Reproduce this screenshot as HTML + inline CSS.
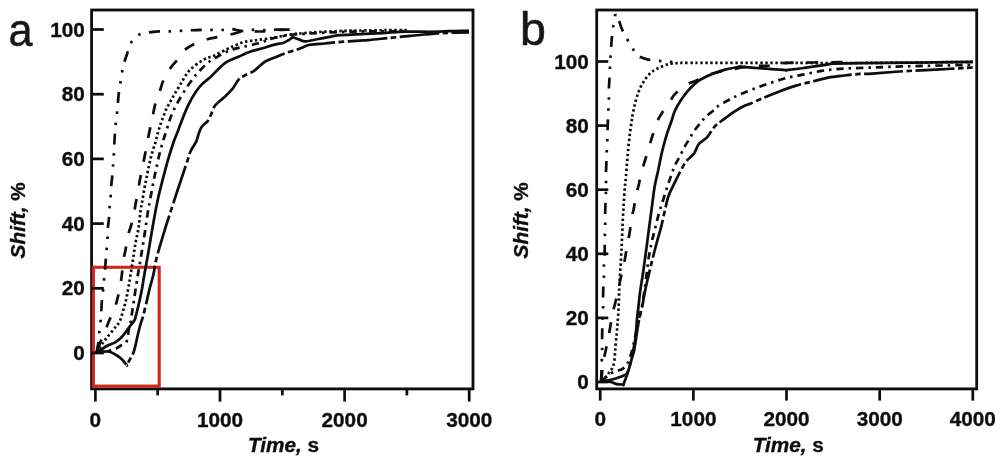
<!DOCTYPE html>
<html lang="en">
<head>
<meta charset="utf-8">
<title>Shift vs Time</title>
<style>
html,body{margin:0;padding:0;background:#fff;}
body{width:1000px;height:463px;overflow:hidden;font-family:"Liberation Sans",Arial,sans-serif;}
svg{display:block;}
</style>
</head>
<body>
<svg width="1000" height="463" viewBox="0 0 1000 463">
<defs><filter id="soft" x="0" y="0" width="1000" height="463" filterUnits="userSpaceOnUse"><feGaussianBlur stdDeviation="0.4"/></filter></defs>
<rect x="0" y="0" width="1000" height="463" fill="#fff"/>
<g filter="url(#soft)">
<g fill="none" stroke="#0a0a0a" stroke-width="2.8">
<rect x="91.6" y="10" width="381.4" height="378.9"/>
<rect x="596.7" y="10" width="380" height="378.9"/>
</g>
<rect x="93.4" y="267.3" width="65.8" height="118.8" fill="none" stroke="#d0281e" stroke-width="3.1"/>
<g fill="none" stroke="#0a0a0a" stroke-width="2.7" stroke-linejoin="round">
<path d="M96.5,352.7 C96.8,351.1 97.8,346.4 98.3,343.0 C98.8,339.6 98.9,335.7 99.3,332.1 C99.7,328.6 100.2,325.1 100.5,321.7 C100.8,318.3 101.1,315.3 101.3,311.9 C101.5,308.4 101.6,304.6 101.9,301.0 C102.2,297.4 102.8,293.6 103.1,290.1 C103.4,286.6 103.7,283.4 104.0,280.0 C104.3,276.6 104.7,273.4 105.0,270.0 C105.3,266.6 105.5,263.1 105.8,259.6 C106.1,256.1 106.3,252.7 106.6,249.2 C106.9,245.7 107.2,242.4 107.4,238.8 C107.6,235.2 107.6,231.1 107.9,227.6 C108.2,224.1 108.7,221.3 109.0,218.0 C109.3,214.7 109.2,211.5 109.5,208.0 C109.8,204.5 110.3,200.4 110.6,196.8 C110.9,193.2 110.8,189.7 111.1,186.4 C111.4,183.1 111.9,180.1 112.2,176.8 C112.5,173.5 112.7,170.0 113.0,166.4 C113.3,162.8 113.6,158.9 113.8,155.2 C114.0,151.5 114.1,147.5 114.3,144.0 C114.5,140.5 114.7,137.3 114.9,134.0 C115.1,130.7 115.4,127.6 115.7,124.1 C116.0,120.6 116.7,116.6 117.0,113.2 C117.3,109.8 117.5,107.1 117.8,103.6 C118.1,100.1 118.5,96.0 118.9,92.4 C119.4,88.8 120.0,85.4 120.5,82.0 C121.0,78.6 121.5,75.1 122.1,71.9 C122.7,68.7 123.2,66.0 124.2,62.6 C125.2,59.2 126.8,54.7 127.9,51.4 C129.1,48.1 129.4,45.3 131.1,42.6 C132.8,39.9 135.5,36.8 138.3,35.1 C141.2,33.4 144.8,33.1 148.2,32.5 C151.6,31.9 155.1,31.6 158.6,31.4 C162.1,31.2 165.4,31.5 169.0,31.4 C172.6,31.3 176.7,31.1 180.2,30.9 C183.7,30.7 186.3,30.5 189.8,30.3 C193.3,30.1 197.4,29.9 201.0,29.8 C204.6,29.7 207.9,29.8 211.4,29.8 C214.9,29.8 218.5,30.1 221.8,30.0 C225.1,29.9 227.5,28.7 231.0,28.9 C234.5,29.1 239.3,31.0 243.0,31.1 C246.7,31.2 249.5,30.0 253.0,29.8 C256.5,29.6 260.6,30.2 264.0,30.2 C267.4,30.2 268.9,29.8 273.6,29.7 C278.3,29.6 288.9,29.7 292.0,29.7" stroke-dasharray="11 8.6 2.5 8.6 2.5 8.6"/>
<path d="M96.5,352.7 C97.4,350.3 100.4,341.9 101.9,338.1 C103.4,334.3 104.4,332.6 105.6,329.7 C106.8,326.8 107.6,324.4 109.2,320.6 C110.8,316.8 113.5,311.0 115.0,307.0 C116.5,303.0 117.0,300.8 117.9,296.8 C118.9,292.8 120.0,287.0 120.7,282.9 C121.4,278.8 121.6,276.5 122.1,272.4 C122.6,268.2 123.3,262.0 123.9,258.0 C124.5,254.0 125.1,252.3 125.8,248.4 C126.5,244.5 127.3,238.8 128.2,234.8 C129.1,230.8 130.4,228.3 131.4,224.4 C132.4,220.5 133.5,215.1 134.3,211.2 C135.1,207.3 135.5,204.8 136.2,200.8 C136.9,196.8 137.9,191.2 138.6,187.2 C139.3,183.2 139.7,180.9 140.5,176.8 C141.3,172.7 142.6,166.5 143.4,162.4 C144.2,158.3 144.8,155.9 145.5,152.0 C146.2,148.1 147.1,142.9 147.9,138.8 C148.7,134.7 149.5,131.6 150.3,127.6 C151.2,123.6 152.2,118.8 153.0,114.8 C153.8,110.8 154.2,107.6 155.4,103.6 C156.6,99.6 158.6,94.7 159.9,90.8 C161.2,86.9 161.8,84.0 163.4,80.4 C165.1,76.8 167.5,72.4 169.8,69.0 C172.1,65.6 174.5,63.4 177.0,60.2 C179.5,57.0 181.9,52.6 185.0,49.8 C188.1,47.0 191.7,45.2 195.4,43.4 C199.1,41.6 203.6,40.3 207.4,39.2 C211.2,38.1 214.5,37.7 218.4,36.9 C222.3,36.1 226.9,35.2 231.0,34.3 C235.1,33.4 238.6,32.0 243.0,31.5 C247.4,31.0 253.6,31.5 257.7,31.5 C261.8,31.5 263.6,31.6 267.4,31.3 C271.2,31.0 276.6,30.1 280.7,29.8 C284.8,29.5 290.1,29.7 292.0,29.7" stroke-dasharray="11 13.3" stroke-dashoffset="-3"/>
<path d="M96.5,352.7 C97.2,351.6 99.5,347.8 100.7,346.0 C101.9,344.2 102.6,343.3 103.7,341.8 C104.8,340.3 106.2,338.4 107.4,336.9 C108.6,335.4 109.7,334.3 111.0,332.7 C112.3,331.1 114.1,328.6 115.2,327.3 C116.3,326.0 116.8,326.0 117.7,324.6 C118.6,323.2 119.9,321.1 120.7,319.0 C121.5,316.9 122.0,314.3 122.7,311.9 C123.4,309.5 124.2,307.1 124.9,304.6 C125.6,302.1 126.1,299.7 126.7,296.8 C127.3,293.9 127.9,290.6 128.5,287.1 C129.1,283.6 129.6,280.6 130.3,276.0 C131.1,271.4 132.2,265.0 133.0,259.6 C133.8,254.2 134.5,248.9 135.4,243.6 C136.3,238.3 137.8,233.0 138.6,227.6 C139.4,222.2 139.9,215.3 140.5,211.0 C141.1,206.7 141.6,205.2 142.2,201.6 C142.8,198.0 143.5,193.6 144.2,189.6 C144.9,185.6 145.8,181.6 146.6,177.6 C147.4,173.6 148.1,169.6 149.0,165.6 C149.9,161.6 150.8,157.5 151.9,153.6 C153.0,149.7 154.4,145.8 155.4,142.4 C156.4,139.0 157.0,136.1 157.8,133.2 C158.6,130.3 159.3,128.0 160.2,125.2 C161.1,122.4 162.3,119.2 163.4,116.4 C164.5,113.6 165.4,110.9 166.6,108.4 C167.8,105.9 169.3,103.6 170.6,101.2 C171.9,98.8 173.1,96.5 174.6,94.0 C176.1,91.5 177.8,88.7 179.4,86.0 C181.0,83.3 182.4,80.8 184.2,78.0 C186.0,75.2 187.2,72.5 190.3,69.5 C193.4,66.5 198.9,62.4 203.0,60.0 C207.1,57.6 211.0,57.0 215.0,55.2 C219.0,53.4 223.7,50.8 227.0,49.2 C230.3,47.6 232.3,46.5 235.0,45.4 C237.7,44.3 240.3,43.2 243.0,42.4 C245.7,41.6 248.3,41.2 251.0,40.8 C253.7,40.4 255.7,40.2 259.0,39.8 C262.3,39.4 267.5,38.8 271.0,38.2 C274.5,37.6 276.4,37.1 280.0,36.4 C283.6,35.7 288.7,34.8 292.8,34.2 C296.9,33.6 300.4,33.4 304.9,33.0 C309.4,32.6 313.5,32.4 320.0,32.0 C326.5,31.6 337.3,31.1 344.0,30.9 C350.7,30.6 353.2,30.6 360.0,30.5 C366.8,30.4 377.2,30.3 385.0,30.2 C392.8,30.1 403.3,30.1 407.0,30.1" stroke-dasharray="2.4 2.6"/>
<path d="M96.5,352.7 C98.4,352.4 104.9,351.6 108.0,351.0 C111.1,350.4 113.2,349.8 115.2,349.0 C117.2,348.2 118.3,347.1 120.1,346.0 C121.9,344.9 124.8,344.1 126.1,342.4 C127.4,340.7 127.5,337.6 127.9,335.7 C128.3,333.8 128.1,332.9 128.5,330.9 C128.9,328.8 129.8,326.3 130.4,323.4 C131.0,320.5 131.4,316.9 131.9,313.7 C132.4,310.5 132.9,307.2 133.4,304.0 C133.9,300.8 134.3,297.7 134.8,294.4 C135.3,291.1 135.9,287.1 136.4,284.1 C136.9,281.1 137.2,278.4 137.6,276.2 C138.0,274.0 138.0,274.1 138.6,270.8 C139.2,267.5 140.2,261.2 141.0,256.4 C141.8,251.6 142.6,247.1 143.4,242.0 C144.2,236.9 145.1,230.8 145.8,226.0 C146.5,221.2 147.2,216.6 147.7,213.2 C148.2,209.8 148.4,209.0 149.0,205.6 C149.6,202.2 150.6,197.1 151.4,192.8 C152.2,188.5 153.0,184.0 153.8,180.0 C154.6,176.0 155.3,173.1 156.2,168.8 C157.1,164.5 158.3,158.9 159.4,154.4 C160.5,149.9 161.7,145.7 162.9,141.6 C164.1,137.5 165.4,133.7 166.6,130.0 C167.8,126.3 168.7,122.7 169.8,119.6 C170.9,116.5 171.8,114.3 173.0,111.6 C174.2,108.9 175.4,106.5 177.0,103.6 C178.6,100.7 180.7,97.1 182.6,94.0 C184.5,90.9 186.3,88.0 188.2,85.2 C190.1,82.5 192.1,79.7 193.8,77.5 C195.5,75.3 196.3,74.3 198.5,72.0 C200.7,69.7 204.4,65.6 207.0,63.4 C209.6,61.2 211.5,60.4 214.2,58.8 C216.9,57.2 219.9,55.2 223.0,53.6 C226.1,52.0 229.4,50.5 232.6,49.4 C235.8,48.3 239.0,47.7 242.2,47.0 C245.4,46.3 248.6,45.8 251.8,45.0 C255.0,44.2 258.3,43.2 261.4,42.2 C264.5,41.2 267.1,40.1 270.2,39.2 C273.3,38.3 276.2,37.6 280.0,36.8 C283.8,36.0 288.7,35.0 292.8,34.5 C296.9,34.0 300.4,34.1 304.9,33.8 C309.4,33.5 313.5,33.2 320.0,32.9 C326.5,32.6 337.3,32.1 344.0,31.9 C350.7,31.7 353.2,31.6 360.0,31.5 C366.8,31.4 377.2,31.4 385.0,31.3 C392.8,31.2 403.3,31.2 407.0,31.2" stroke-dasharray="7.3 5 2.5 5"/>
<path d="M96.5,352.7 C98.2,351.6 103.7,347.7 106.8,346.0 C109.9,344.3 112.8,343.8 115.2,342.4 C117.6,341.0 119.5,339.3 121.3,337.5 C123.1,335.7 124.5,333.6 126.1,331.5 C127.7,329.4 129.6,326.7 131.0,324.8 C132.4,322.9 133.8,321.4 134.6,320.0 C135.4,318.6 135.1,318.8 135.8,316.1 C136.5,313.4 137.8,308.4 138.8,304.0 C139.8,299.6 141.0,294.3 141.9,289.5 C142.8,284.7 143.2,281.1 144.3,275.0 C145.4,268.9 147.0,260.0 148.2,253.2 C149.4,246.4 150.2,240.9 151.4,234.0 C152.6,227.1 154.2,218.1 155.4,211.8 C156.6,205.5 157.3,201.8 158.6,196.0 C159.9,190.2 161.8,182.9 163.4,176.8 C165.0,170.7 166.5,165.1 168.2,159.2 C169.9,153.3 172.1,146.5 173.8,141.5 C175.5,136.5 177.0,133.4 178.6,129.2 C180.2,125.0 181.7,120.7 183.4,116.4 C185.1,112.1 187.0,107.6 189.0,103.6 C191.0,99.6 193.3,95.6 195.4,92.4 C197.5,89.2 199.3,87.0 201.8,84.4 C204.3,81.8 207.9,79.4 210.5,77.0 C213.1,74.6 214.9,72.5 217.5,70.0 C220.1,67.5 222.8,64.4 226.3,62.2 C229.8,60.0 234.4,58.6 238.4,56.8 C242.4,55.0 246.5,53.0 250.5,51.6 C254.5,50.2 258.6,49.5 262.6,48.3 C266.6,47.1 271.3,45.5 274.7,44.6 C278.1,43.7 280.8,43.7 283.1,43.0 C285.4,42.3 286.9,41.2 288.5,40.3 C290.1,39.3 292.1,37.8 292.8,37.3 C293.5,36.8 291.8,36.9 292.8,37.3 C293.8,37.6 296.8,38.7 298.9,39.4 C301.0,40.1 302.4,41.5 305.6,41.4 C308.9,41.3 314.1,39.8 318.4,39.0 C322.7,38.2 327.6,37.2 331.2,36.6 C334.8,36.0 335.2,35.6 340.0,35.2 C344.8,34.8 353.0,34.6 360.0,34.2 C367.0,33.9 374.3,33.5 382.0,33.1 C389.7,32.7 398.0,31.8 406.0,31.6 C414.0,31.4 422.7,31.9 430.0,31.8 C437.3,31.7 443.5,31.4 450.0,31.2 C456.5,31.0 465.8,30.9 469.0,30.8"/>
<path d="M96.5,352.7 C98.4,352.5 104.9,351.1 108.0,351.4 C111.1,351.7 113.0,353.3 115.2,354.5 C117.4,355.7 119.4,356.9 121.3,358.7 C123.2,360.4 125.8,363.9 126.7,365.0 C127.6,366.1 126.0,366.2 126.7,365.0 C127.4,363.8 129.9,359.6 131.0,357.5 C132.1,355.4 132.7,354.5 133.4,352.7 C134.1,350.9 134.5,349.4 135.2,346.6 C135.9,343.8 136.8,339.1 137.6,335.7 C138.4,332.3 139.3,328.6 140.0,326.0 C140.7,323.4 141.4,321.6 141.9,320.0 C142.4,318.4 142.4,318.8 143.1,316.1 C143.8,313.4 145.0,308.6 146.1,304.0 C147.2,299.4 148.5,293.1 149.7,288.3 C150.9,283.5 152.2,279.8 153.3,275.0 C154.4,270.2 155.0,264.6 156.2,259.6 C157.3,254.6 158.7,250.3 160.2,245.2 C161.7,240.1 163.3,234.8 165.0,229.2 C166.7,223.6 168.7,217.4 170.6,211.6 C172.5,205.8 174.5,199.7 176.2,194.4 C177.9,189.1 179.1,185.6 181.0,180.0 C182.9,174.4 185.8,165.6 187.4,160.8 C189.0,156.0 189.1,154.4 190.6,151.2 C192.1,148.0 194.9,144.5 196.2,141.6 C197.5,138.7 197.7,136.5 198.6,134.0 C199.5,131.5 200.2,129.1 201.8,126.8 C203.4,124.5 206.5,122.9 208.2,120.4 C209.9,117.9 211.0,114.1 212.2,111.6 C213.4,109.1 213.4,107.6 215.4,105.2 C217.4,102.8 221.4,99.9 224.2,97.2 C227.0,94.5 229.8,92.1 232.2,89.2 C234.6,86.3 236.6,81.9 238.6,79.6 C240.6,77.3 241.8,77.1 244.4,75.6 C247.0,74.1 250.7,73.1 254.1,70.8 C257.5,68.5 261.6,63.9 265.0,61.7 C268.4,59.5 271.1,59.0 274.7,57.5 C278.3,56.0 282.8,54.1 286.8,52.7 C290.8,51.3 295.1,50.3 298.9,49.0 C302.7,47.7 305.5,45.7 309.8,44.8 C314.1,43.9 320.2,43.9 324.8,43.5 C329.4,43.1 331.7,42.7 337.6,42.2 C343.5,41.7 354.9,41.0 360.0,40.6 C365.1,40.2 363.2,40.5 368.0,40.1 C372.8,39.7 382.0,38.7 389.0,38.0 C396.0,37.3 404.2,36.5 410.0,35.9 C415.8,35.3 419.3,34.9 424.0,34.5 C428.7,34.1 433.7,33.6 438.0,33.3 C442.3,33.0 444.8,33.0 450.0,32.8 C455.2,32.6 465.8,32.4 469.0,32.3" stroke-dasharray="39.6 3.5 5.6 3.5" stroke-dashoffset="3.4"/>
<path d="M601.1,381.0 C601.2,379.2 601.3,375.4 601.5,370.0 C601.7,364.6 602.0,354.1 602.1,348.8 C602.2,343.6 602.1,342.0 602.1,338.5 C602.1,335.0 602.2,331.0 602.3,327.7 C602.4,324.4 602.6,321.9 602.7,318.6 C602.8,315.3 603.0,311.2 603.1,307.7 C603.2,304.2 603.1,301.0 603.1,297.4 C603.1,293.8 603.2,289.8 603.3,286.3 C603.4,282.8 603.8,280.0 603.9,276.6 C604.0,273.2 603.8,269.5 603.9,265.7 C604.0,261.9 604.6,257.2 604.7,253.8 C604.8,250.4 604.7,248.2 604.7,245.0 C604.7,241.8 604.8,238.2 604.9,234.6 C605.0,231.0 605.2,226.9 605.2,223.4 C605.2,219.9 605.2,217.3 605.2,213.8 C605.2,210.3 605.4,206.5 605.5,202.6 C605.6,198.7 605.9,194.1 606.0,190.6 C606.1,187.1 606.0,184.7 606.0,181.6 C606.0,178.5 605.9,175.6 606.0,172.0 C606.1,168.4 606.4,163.6 606.5,160.0 C606.6,156.4 606.7,153.7 606.8,150.4 C606.9,147.1 607.2,143.5 607.3,140.0 C607.4,136.5 607.5,133.0 607.6,129.6 C607.7,126.2 607.8,123.2 607.9,119.8 C608.0,116.4 608.2,112.9 608.4,109.4 C608.6,105.9 608.8,102.5 608.9,99.0 C609.0,95.5 608.8,92.1 608.9,88.6 C609.0,85.1 609.3,81.8 609.5,78.2 C609.7,74.6 609.8,70.6 610.0,67.0 C610.2,63.4 610.3,60.0 610.5,56.6 C610.7,53.2 611.0,50.0 611.2,46.6 C611.5,43.2 611.6,39.7 612.0,36.2 C612.4,32.7 612.8,29.4 613.3,25.8 C613.8,22.2 614.9,16.6 615.2,14.8 C615.5,13.0 614.7,14.0 615.2,14.8 C615.7,15.6 617.3,17.2 618.4,19.4 C619.5,21.6 620.3,25.1 621.6,28.2 C622.9,31.3 624.7,34.6 626.4,37.8 C628.1,41.0 630.1,44.5 632.0,47.4 C633.9,50.3 635.1,53.4 637.6,55.4 C640.1,57.4 643.9,58.5 647.2,59.4 C650.5,60.3 654.1,60.2 657.6,60.6 C661.1,61.0 663.9,61.5 668.0,61.8 C672.1,62.1 679.7,62.2 682.0,62.3" stroke-dasharray="11 8.6 2.5 8.6 2.5 8.6"/>
<path d="M601.1,381.0 C601.6,380.7 602.9,380.0 604.0,379.0 C605.1,378.0 606.5,376.2 607.5,375.0 C608.5,373.8 608.9,372.8 609.8,371.5 C610.7,370.2 612.0,369.1 612.8,367.4 C613.5,365.6 613.9,363.6 614.3,361.0 C614.7,358.4 614.9,353.8 615.1,351.7 C615.3,349.6 615.1,351.0 615.4,348.2 C615.6,345.4 616.2,339.1 616.6,334.9 C617.0,330.7 617.3,326.8 617.6,322.8 C617.9,318.8 618.2,314.9 618.4,310.7 C618.6,306.5 618.9,301.5 619.0,297.4 C619.1,293.3 619.1,290.2 619.3,286.3 C619.5,282.4 619.8,278.2 620.0,274.2 C620.2,270.2 620.6,265.9 620.8,262.1 C621.0,258.3 621.2,253.9 621.4,251.2 C621.5,248.5 621.5,249.9 621.7,245.8 C621.9,241.7 622.2,233.3 622.5,226.6 C622.8,219.9 623.2,212.4 623.6,205.8 C624.0,199.2 624.5,192.0 624.9,187.0 C625.3,182.0 625.6,180.2 626.0,176.0 C626.4,171.8 626.7,166.4 627.1,161.6 C627.5,156.8 627.9,152.0 628.4,147.2 C628.9,142.4 629.5,137.1 630.0,132.8 C630.5,128.5 631.2,124.4 631.6,121.6 C632.0,118.8 631.9,118.6 632.4,115.8 C632.9,113.0 633.9,108.3 634.8,104.6 C635.7,100.9 636.7,97.0 638.0,93.4 C639.3,89.8 640.9,86.2 642.8,83.0 C644.7,79.8 646.8,76.6 649.2,74.2 C651.6,71.8 654.0,70.3 657.2,68.6 C660.4,66.9 664.9,65.1 668.4,64.2 C671.9,63.3 674.4,63.3 678.0,63.1 C681.6,62.9 685.5,62.9 690.0,62.9 C694.5,62.9 695.0,62.9 705.0,62.9 C715.0,62.9 734.2,62.9 750.0,62.9 C765.8,62.9 785.0,62.8 800.0,62.9 C815.0,63.0 830.0,63.2 840.0,63.2 C850.0,63.2 837.9,63.2 860.0,63.0 C882.1,62.8 954.0,62.1 972.8,61.9" stroke-dasharray="2.4 2.6"/>
<path d="M601.1,381.0 C601.5,377.8 602.7,366.3 603.4,361.6 C604.1,356.9 604.4,356.7 605.2,352.8 C606.0,348.9 607.3,342.6 608.1,338.5 C608.9,334.4 609.3,332.3 610.0,328.3 C610.7,324.3 611.6,318.4 612.4,314.4 C613.2,310.4 613.8,308.4 614.8,304.5 C615.8,300.6 617.5,295.2 618.4,291.1 C619.3,287.1 619.3,284.2 620.2,280.2 C621.1,276.2 622.8,270.8 623.6,266.9 C624.5,263.0 624.6,260.6 625.3,256.7 C626.0,252.8 626.9,247.5 627.6,243.4 C628.3,239.3 629.0,236.3 629.7,232.2 C630.4,228.1 630.9,222.7 631.6,218.6 C632.3,214.5 633.2,211.5 634.0,207.4 C634.8,203.3 635.6,197.6 636.4,193.8 C637.2,190.0 637.9,188.4 638.8,184.5 C639.7,180.6 640.9,174.5 642.0,170.4 C643.1,166.3 644.0,164.0 645.2,160.0 C646.4,156.0 648.0,150.4 649.2,146.4 C650.4,142.4 651.1,140.1 652.4,136.0 C653.7,131.9 655.7,125.2 657.2,121.6 C658.7,118.0 659.2,117.4 661.2,114.2 C663.2,111.0 666.8,105.7 669.2,102.2 C671.6,98.7 672.7,96.3 675.6,93.4 C678.5,90.5 683.3,86.7 686.8,84.6 C690.3,82.5 692.8,82.2 696.4,80.6 C700.0,79.0 704.5,76.5 708.4,75.0 C712.3,73.5 715.7,72.7 719.6,71.8 C723.5,70.9 728.1,70.4 732.0,69.6 C735.9,68.8 738.9,67.8 743.2,67.2 C747.5,66.6 753.3,66.2 757.6,65.9 C761.9,65.6 764.8,66.0 768.8,65.6 C772.8,65.1 777.6,63.7 781.6,63.2 C785.6,62.7 784.7,62.9 792.8,62.7 C800.9,62.6 821.3,62.4 830.0,62.3 C838.7,62.2 842.5,62.0 845.0,62.0" stroke-dasharray="11 13.3"/>
<path d="M601.7,380.8 C603.2,380.6 608.1,380.3 611.0,379.7 C613.9,379.1 616.7,378.2 619.2,377.3 C621.7,376.4 625.0,374.9 626.2,374.4 C627.4,373.9 625.8,375.1 626.2,374.4 C626.6,373.7 627.5,373.1 628.5,370.3 C629.5,367.5 631.2,360.9 632.0,357.5 C632.8,354.1 632.7,353.2 633.3,350.0 C633.9,346.8 634.9,343.1 635.5,338.0 C636.1,332.9 636.5,324.6 637.0,319.2 C637.5,313.8 638.1,310.3 638.6,305.6 C639.1,300.9 639.4,296.7 640.2,291.1 C641.0,285.5 642.2,278.7 643.2,271.8 C644.2,264.9 645.3,256.5 646.2,250.0 C647.1,243.5 647.5,239.8 648.4,233.0 C649.3,226.2 650.5,216.9 651.6,209.0 C652.7,201.1 653.7,192.1 654.8,185.8 C655.9,179.5 656.8,176.8 658.0,171.2 C659.2,165.6 660.5,158.1 662.0,152.0 C663.5,145.9 665.2,139.6 666.8,134.4 C668.4,129.2 670.3,124.7 671.6,120.8 C672.9,116.9 673.2,114.5 674.8,111.0 C676.4,107.5 678.8,103.4 681.2,99.8 C683.6,96.2 686.3,92.6 689.2,89.4 C692.1,86.2 695.1,83.1 698.8,80.6 C702.5,78.1 707.1,76.1 711.6,74.2 C716.1,72.3 721.3,70.7 726.0,69.4 C730.7,68.1 737.7,67.1 740.0,66.6 C742.3,66.1 737.3,66.4 740.0,66.6 C742.7,66.8 750.7,67.6 756.0,68.0 C761.3,68.4 766.9,68.8 772.0,69.1 C777.1,69.4 784.0,69.9 786.4,70.1 C788.8,70.3 783.5,70.4 786.4,70.1 C789.3,69.8 798.4,68.8 804.0,68.0 C809.6,67.2 815.2,66.3 820.0,65.6 C824.8,64.9 830.7,64.0 832.8,63.7 C834.9,63.4 828.3,63.8 832.8,63.7 C837.3,63.6 836.7,63.5 860.0,63.2 C883.3,62.9 954.0,62.1 972.8,61.9"/>
<path d="M601.1,381.0 C602.6,379.8 607.4,375.7 610.0,374.0 C612.6,372.3 614.8,371.7 616.8,370.9 C618.8,370.1 620.4,370.3 622.1,369.2 C623.8,368.1 625.4,366.6 626.8,364.5 C628.2,362.4 629.2,359.4 630.3,356.3 C631.4,353.2 632.3,349.4 633.2,345.8 C634.1,342.2 634.6,339.4 635.5,335.0 C636.4,330.6 637.8,323.4 638.8,319.2 C639.8,314.9 640.7,312.9 641.4,309.5 C642.1,306.1 642.6,302.4 643.2,298.6 C643.8,294.9 644.4,291.6 645.0,287.0 C645.6,282.4 646.3,276.2 647.0,271.0 C647.7,265.8 648.2,260.7 649.0,256.0 C649.8,251.3 650.6,247.0 651.6,242.6 C652.6,238.2 653.6,234.6 654.8,229.8 C656.0,225.0 657.5,218.6 658.8,213.8 C660.1,209.0 661.3,205.7 662.8,201.0 C664.3,196.3 666.1,190.2 667.6,185.8 C669.1,181.4 670.4,177.8 671.6,174.4 C672.8,171.0 673.5,168.5 674.8,165.6 C676.1,162.7 678.0,159.9 679.6,156.8 C681.2,153.7 682.8,150.1 684.4,147.2 C686.0,144.3 687.6,141.9 689.2,139.2 C690.8,136.5 692.1,133.9 694.0,131.2 C695.9,128.5 698.5,125.5 700.4,123.2 C702.3,120.9 702.9,119.7 705.2,117.4 C707.5,115.1 712.3,111.5 714.4,109.6 C716.5,107.7 715.5,107.8 718.0,106.2 C720.5,104.6 725.5,101.8 729.2,99.8 C732.9,97.8 735.5,96.4 740.0,94.4 C744.5,92.4 750.7,90.0 756.0,88.0 C761.3,86.0 766.7,84.1 772.0,82.4 C777.3,80.7 782.7,78.9 788.0,77.6 C793.3,76.3 798.7,75.5 804.0,74.4 C809.3,73.3 814.7,72.1 820.0,71.2 C825.3,70.3 829.3,69.6 836.0,69.1 C842.7,68.6 848.7,68.5 860.0,68.0 C871.3,67.5 885.2,66.9 904.0,66.4 C922.8,65.9 961.3,65.1 972.8,64.8" stroke-dasharray="7.3 5 2.5 5"/>
<path d="M601.1,381.0 C602.8,381.2 608.4,381.5 611.0,382.0 C613.6,382.5 614.8,383.7 616.8,384.1 C618.8,384.5 622.2,384.5 623.3,384.6 C624.4,384.7 622.8,385.8 623.3,384.6 C623.8,383.4 625.2,380.1 626.2,377.3 C627.2,374.5 628.1,371.3 629.1,368.0 C630.1,364.7 631.1,360.6 632.0,357.5 C632.9,354.4 633.1,355.6 634.3,349.4 C635.5,343.1 637.6,327.4 639.0,320.0 C640.4,312.6 641.6,309.2 642.5,305.0 C643.4,300.8 643.5,298.9 644.3,294.8 C645.1,290.7 646.3,285.0 647.4,280.2 C648.5,275.4 649.8,270.2 650.8,266.0 C651.8,261.8 652.4,259.2 653.5,255.0 C654.6,250.8 655.9,245.7 657.2,241.0 C658.5,236.3 659.9,231.9 661.2,226.6 C662.5,221.3 664.0,214.1 665.2,209.0 C666.4,203.9 667.1,200.1 668.4,196.2 C669.7,192.3 672.1,188.1 673.2,185.8 C674.3,183.5 673.7,184.6 674.8,182.4 C675.9,180.2 677.7,176.3 679.6,172.8 C681.5,169.3 683.6,164.8 686.0,161.6 C688.4,158.4 691.9,156.5 694.0,153.6 C696.1,150.7 696.7,146.7 698.8,144.0 C700.9,141.3 704.1,140.5 706.8,137.6 C709.5,134.7 712.1,129.3 714.8,126.4 C717.5,123.5 719.6,122.4 722.8,120.0 C726.0,117.6 730.5,114.1 734.0,111.8 C737.5,109.5 740.9,107.5 743.6,106.2 C746.3,104.9 746.6,105.2 750.0,103.8 C753.4,102.4 759.0,99.7 764.0,97.6 C769.0,95.5 774.7,93.2 780.0,91.2 C785.3,89.2 790.7,87.2 796.0,85.6 C801.3,84.0 806.7,82.9 812.0,81.6 C817.3,80.3 822.7,78.6 828.0,77.6 C833.3,76.6 838.7,76.1 844.0,75.5 C849.3,74.9 855.3,74.2 860.0,73.9 C864.7,73.6 864.7,74.0 872.0,73.6 C879.3,73.1 893.3,71.9 904.0,71.2 C914.7,70.5 924.5,70.2 936.0,69.6 C947.5,69.0 966.7,67.8 972.8,67.5" stroke-dasharray="39 3.5 5.5 3.5"/>
</g>
<g fill="none" stroke="#0a0a0a" stroke-width="2.7">
<line x1="92" y1="353.0" x2="103.8" y2="353.0"/>
<line x1="92" y1="288.3" x2="103.8" y2="288.3"/>
<line x1="92" y1="223.6" x2="103.8" y2="223.6"/>
<line x1="92" y1="158.9" x2="103.8" y2="158.9"/>
<line x1="92" y1="94.2" x2="103.8" y2="94.2"/>
<line x1="92" y1="29.5" x2="103.8" y2="29.5"/>
<line x1="95.4" y1="389" x2="95.4" y2="401.6"/>
<line x1="220.0" y1="389" x2="220.0" y2="401.6"/>
<line x1="344.6" y1="389" x2="344.6" y2="401.6"/>
<line x1="469.2" y1="389" x2="469.2" y2="401.6"/>
<line x1="157.7" y1="389" x2="157.7" y2="395.4"/>
<line x1="282.3" y1="389" x2="282.3" y2="395.4"/>
<line x1="406.9" y1="389" x2="406.9" y2="395.4"/>
<line x1="597" y1="382.0" x2="608.3" y2="382.0"/>
<line x1="597" y1="317.9" x2="608.3" y2="317.9"/>
<line x1="597" y1="253.8" x2="608.3" y2="253.8"/>
<line x1="597" y1="189.7" x2="608.3" y2="189.7"/>
<line x1="597" y1="125.6" x2="608.3" y2="125.6"/>
<line x1="597" y1="61.5" x2="608.3" y2="61.5"/>
<line x1="600.2" y1="389" x2="600.2" y2="400.6"/>
<line x1="693.4" y1="389" x2="693.4" y2="400.6"/>
<line x1="786.5" y1="389" x2="786.5" y2="400.6"/>
<line x1="879.7" y1="389" x2="879.7" y2="400.6"/>
<line x1="972.8" y1="389" x2="972.8" y2="400.6"/>
</g>
<g font-family="'Liberation Sans', Arial, sans-serif" font-weight="bold" font-size="20px" fill="#111" stroke="#111" stroke-width="0.35">
<text transform="translate(84.9,360.1) scale(1.038,1)" text-anchor="end">0</text>
<text transform="translate(84.9,295.4) scale(1.038,1)" text-anchor="end">20</text>
<text transform="translate(84.9,230.7) scale(1.038,1)" text-anchor="end">40</text>
<text transform="translate(84.9,166.0) scale(1.038,1)" text-anchor="end">60</text>
<text transform="translate(84.9,101.3) scale(1.038,1)" text-anchor="end">80</text>
<text transform="translate(84.9,36.6) scale(1.038,1)" text-anchor="end">100</text>
<text transform="translate(588.8,389.1) scale(1.038,1)" text-anchor="end">0</text>
<text transform="translate(588.8,325.0) scale(1.038,1)" text-anchor="end">20</text>
<text transform="translate(588.8,260.9) scale(1.038,1)" text-anchor="end">40</text>
<text transform="translate(588.8,196.8) scale(1.038,1)" text-anchor="end">60</text>
<text transform="translate(588.8,132.7) scale(1.038,1)" text-anchor="end">80</text>
<text transform="translate(588.8,68.6) scale(1.038,1)" text-anchor="end">100</text>
<text transform="translate(95.4,426.8) scale(1.038,1)" text-anchor="middle">0</text>
<text transform="translate(220.0,426.8) scale(1.038,1)" text-anchor="middle">1000</text>
<text transform="translate(344.6,426.8) scale(1.038,1)" text-anchor="middle">2000</text>
<text transform="translate(469.2,426.8) scale(1.038,1)" text-anchor="middle">3000</text>
<text transform="translate(600.2,426.4) scale(1.038,1)" text-anchor="middle">0</text>
<text transform="translate(693.4,426.4) scale(1.038,1)" text-anchor="middle">1000</text>
<text transform="translate(786.5,426.4) scale(1.038,1)" text-anchor="middle">2000</text>
<text transform="translate(879.7,426.4) scale(1.038,1)" text-anchor="middle">3000</text>
<text transform="translate(972.8,426.4) scale(1.038,1)" text-anchor="middle">4000</text>
<text transform="translate(283.6,452.4) scale(1.038,1)" text-anchor="middle"><tspan font-style="italic">Time,</tspan> s</text>
<text transform="translate(788.3,451.6) scale(1.038,1)" text-anchor="middle"><tspan font-style="italic">Time,</tspan> s</text>
<text transform="translate(24.6,220.3) rotate(-90) scale(1.04,1)" text-anchor="middle"><tspan font-style="italic">Shift,</tspan> %</text>
<text transform="translate(528.2,220.3) rotate(-90) scale(1.04,1)" text-anchor="middle"><tspan font-style="italic">Shift,</tspan> %</text>
</g>
<g font-family="'Liberation Sans', Arial, sans-serif" font-size="46.5px" fill="#181818" stroke="#181818" stroke-width="0.55">
<text transform="translate(8.6,46) scale(0.93,0.985)">a</text>
<text x="520" y="45">b</text>
</g>
</g>
</svg>
</body>
</html>
